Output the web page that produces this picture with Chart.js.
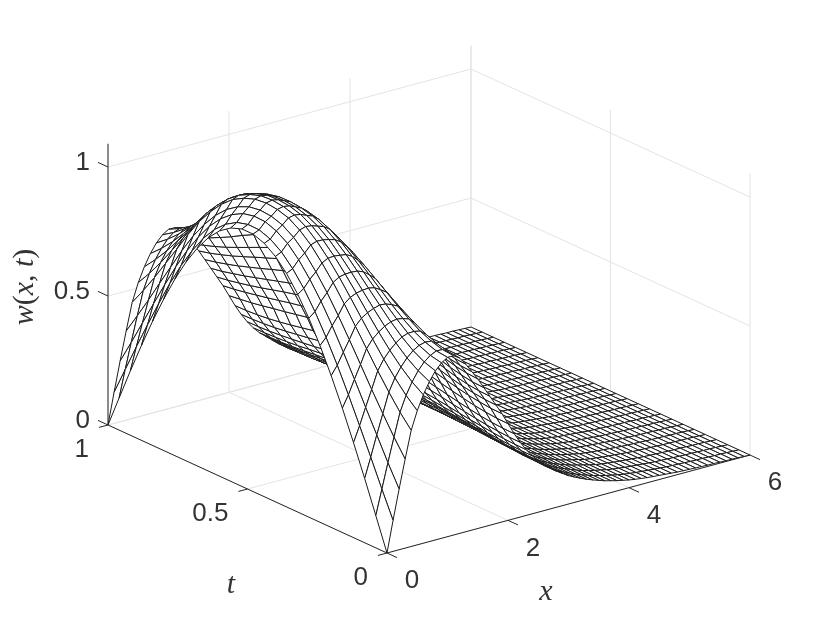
<!DOCTYPE html>
<html>
<head>
<meta charset="utf-8">
<title>w(x,t)</title>
<style>
  html, body { margin: 0; padding: 0; background: #fff; }
  canvas { display: block; }
</style>
<script src="https://cdn.jsdelivr.net/npm/chart.js@4/dist/chart.umd.js"></script>
</head>
<body>
<canvas id="surface" width="830" height="623"></canvas>
<script>
"use strict";

// mesh nodes
const xValues = [0,0.1,0.2,0.3,0.4,0.5,0.6,0.7,0.8,0.9,1,1.1,1.2,1.3,1.4,1.5,1.6,1.7,1.8,1.9,2,2.1,2.2,2.3,2.4,2.5,2.6,2.7,2.8,2.9,3,3.1,3.2,3.3,3.4,3.5,3.6,3.7,3.8,3.9,4,4.1,4.2,4.3,4.4,4.5,4.6,4.7,4.8,4.9,5,5.1,5.2,5.3,5.4,5.5,5.6,5.7,5.8,5.9,6];
const tValues = [0,0.04,0.08,0.12,0.16,0.2,0.24,0.28,0.32,0.36,0.4,0.44,0.48,0.52,0.56,0.6,0.64,0.68,0.72,0.76,0.8,0.84,0.88,0.92,0.96,1];

// w(x,t): one row per x, one column per t
const wRows = [
[0,0.125,0.249,0.368,0.482,0.588,0.685,0.771,0.844,0.905,0.951,0.982,0.998,0.998,0.982,0.951,0.905,0.844,0.771,0.685,0.588,0.482,0.368,0.249,0.125,0],
[0.12,0.221,0.325,0.427,0.527,0.622,0.71,0.79,0.86,0.917,0.962,0.992,1.008,1.009,0.997,0.97,0.93,0.876,0.808,0.73,0.641,0.543,0.441,0.336,0.228,0.12],
[0.235,0.317,0.405,0.492,0.581,0.666,0.749,0.824,0.889,0.945,0.989,1.017,1.033,1.035,1.025,1.001,0.965,0.916,0.854,0.782,0.7,0.61,0.517,0.422,0.327,0.235],
[0.345,0.41,0.481,0.555,0.632,0.708,0.782,0.851,0.912,0.965,1.006,1.034,1.048,1.052,1.045,1.025,0.995,0.952,0.897,0.832,0.756,0.673,0.59,0.505,0.424,0.345],
[0.45,0.5,0.558,0.621,0.687,0.754,0.821,0.884,0.94,0.99,1.028,1.055,1.068,1.073,1.068,1.052,1.027,0.989,0.94,0.882,0.812,0.736,0.661,0.586,0.516,0.45],
[0.52,0.559,0.607,0.66,0.718,0.779,0.84,0.899,0.952,0.998,1.035,1.06,1.073,1.078,1.075,1.06,1.037,1.002,0.957,0.904,0.84,0.771,0.704,0.637,0.576,0.52],
[0.575,0.605,0.643,0.688,0.739,0.794,0.85,0.904,0.954,0.997,1.032,1.056,1.069,1.073,1.071,1.057,1.036,1.005,0.964,0.916,0.858,0.794,0.735,0.676,0.623,0.575],
[0.62,0.642,0.672,0.71,0.755,0.804,0.855,0.905,0.951,0.992,1.024,1.046,1.059,1.063,1.061,1.049,1.031,1.003,0.966,0.922,0.869,0.811,0.758,0.706,0.66,0.62],
[0.655,0.67,0.694,0.727,0.766,0.811,0.857,0.903,0.947,0.985,1.016,1.037,1.048,1.053,1.052,1.042,1.025,0.999,0.966,0.926,0.877,0.824,0.776,0.729,0.689,0.655],
[0.68,0.689,0.708,0.735,0.77,0.809,0.852,0.894,0.934,0.97,0.999,1.018,1.029,1.033,1.032,1.022,1.006,0.984,0.953,0.917,0.873,0.825,0.783,0.743,0.709,0.68],
[0.695,0.7,0.714,0.736,0.766,0.8,0.838,0.876,0.912,0.945,0.971,0.989,0.999,1.002,1.002,0.992,0.979,0.958,0.93,0.898,0.859,0.818,0.782,0.747,0.718,0.695],
[0.695,0.699,0.712,0.731,0.758,0.788,0.822,0.855,0.887,0.916,0.939,0.955,0.964,0.966,0.965,0.957,0.944,0.924,0.899,0.871,0.838,0.802,0.77,0.74,0.715,0.695],
[0.68,0.684,0.695,0.712,0.735,0.761,0.79,0.82,0.847,0.872,0.893,0.907,0.914,0.916,0.914,0.905,0.893,0.876,0.855,0.83,0.801,0.771,0.744,0.719,0.697,0.68],
[0.65,0.653,0.663,0.678,0.698,0.721,0.746,0.772,0.796,0.818,0.836,0.848,0.854,0.855,0.851,0.844,0.832,0.815,0.797,0.775,0.752,0.727,0.704,0.683,0.664,0.65],
[0.615,0.618,0.626,0.639,0.657,0.677,0.699,0.722,0.743,0.762,0.778,0.789,0.794,0.794,0.79,0.782,0.77,0.755,0.738,0.719,0.699,0.679,0.66,0.643,0.628,0.615],
[0.58,0.583,0.59,0.602,0.617,0.635,0.655,0.675,0.694,0.711,0.725,0.734,0.739,0.74,0.736,0.728,0.718,0.704,0.689,0.672,0.655,0.637,0.62,0.605,0.591,0.58],
[0.54,0.542,0.549,0.559,0.572,0.588,0.606,0.623,0.64,0.655,0.667,0.675,0.679,0.68,0.676,0.67,0.661,0.649,0.636,0.621,0.605,0.59,0.575,0.562,0.55,0.54],
[0.5,0.502,0.507,0.516,0.528,0.541,0.556,0.571,0.585,0.598,0.609,0.616,0.62,0.62,0.617,0.611,0.603,0.593,0.582,0.569,0.556,0.543,0.53,0.519,0.508,0.5],
[0.46,0.462,0.467,0.474,0.484,0.496,0.509,0.522,0.535,0.546,0.555,0.561,0.565,0.565,0.562,0.557,0.551,0.542,0.532,0.521,0.509,0.497,0.486,0.476,0.467,0.46],
[0.42,0.421,0.426,0.432,0.441,0.451,0.462,0.473,0.484,0.494,0.501,0.507,0.51,0.51,0.508,0.504,0.498,0.49,0.481,0.472,0.462,0.452,0.443,0.434,0.426,0.42],
[0.375,0.376,0.38,0.386,0.394,0.403,0.413,0.423,0.432,0.441,0.447,0.452,0.455,0.455,0.453,0.449,0.444,0.437,0.43,0.421,0.412,0.404,0.395,0.387,0.381,0.375],
[0.33,0.331,0.334,0.339,0.346,0.354,0.363,0.372,0.38,0.387,0.393,0.397,0.4,0.4,0.397,0.393,0.387,0.38,0.372,0.363,0.354,0.346,0.339,0.334,0.331,0.33],
[0.29,0.291,0.294,0.298,0.304,0.311,0.318,0.326,0.333,0.339,0.344,0.348,0.35,0.35,0.348,0.344,0.339,0.333,0.326,0.318,0.311,0.304,0.298,0.294,0.291,0.29],
[0.255,0.256,0.258,0.262,0.267,0.272,0.278,0.285,0.291,0.296,0.3,0.303,0.305,0.305,0.303,0.3,0.296,0.291,0.285,0.278,0.272,0.267,0.262,0.258,0.256,0.255],
[0.225,0.226,0.228,0.231,0.235,0.241,0.246,0.252,0.257,0.262,0.266,0.268,0.27,0.27,0.268,0.266,0.262,0.257,0.252,0.246,0.241,0.235,0.231,0.228,0.226,0.225],
[0.2,0.201,0.202,0.205,0.209,0.214,0.219,0.224,0.228,0.233,0.236,0.239,0.24,0.24,0.239,0.236,0.233,0.228,0.224,0.219,0.214,0.209,0.205,0.202,0.201,0.2],
[0.18,0.181,0.182,0.185,0.188,0.192,0.196,0.201,0.205,0.209,0.212,0.214,0.215,0.215,0.214,0.212,0.209,0.205,0.201,0.196,0.192,0.188,0.185,0.182,0.181,0.18],
[0.16,0.16,0.162,0.164,0.167,0.17,0.174,0.178,0.181,0.185,0.187,0.189,0.19,0.19,0.189,0.187,0.185,0.181,0.178,0.174,0.17,0.167,0.164,0.162,0.16,0.16],
[0.14,0.14,0.142,0.143,0.146,0.149,0.152,0.155,0.158,0.16,0.163,0.164,0.165,0.165,0.164,0.163,0.16,0.158,0.155,0.152,0.149,0.146,0.143,0.142,0.14,0.14],
[0.125,0.125,0.126,0.128,0.13,0.132,0.134,0.137,0.139,0.141,0.143,0.144,0.145,0.145,0.144,0.143,0.141,0.139,0.137,0.134,0.132,0.13,0.128,0.126,0.125,0.125],
[0.11,0.11,0.111,0.112,0.114,0.116,0.118,0.121,0.123,0.125,0.126,0.127,0.128,0.128,0.127,0.126,0.125,0.123,0.121,0.118,0.116,0.114,0.112,0.111,0.11,0.11],
[0.098,0.098,0.099,0.1,0.101,0.103,0.105,0.107,0.109,0.11,0.112,0.112,0.113,0.113,0.112,0.112,0.11,0.109,0.107,0.105,0.103,0.101,0.1,0.099,0.098,0.098],
[0.087,0.087,0.088,0.089,0.09,0.091,0.093,0.095,0.096,0.098,0.099,0.1,0.1,0.1,0.1,0.099,0.098,0.096,0.095,0.093,0.091,0.09,0.089,0.088,0.087,0.087],
[0.077,0.077,0.078,0.078,0.08,0.081,0.082,0.084,0.085,0.086,0.087,0.088,0.088,0.088,0.088,0.087,0.086,0.085,0.084,0.082,0.081,0.08,0.078,0.078,0.077,0.077],
[0.068,0.068,0.069,0.069,0.07,0.071,0.072,0.073,0.074,0.075,0.076,0.077,0.077,0.077,0.077,0.076,0.075,0.074,0.073,0.072,0.071,0.07,0.069,0.069,0.068,0.068],
[0.06,0.06,0.06,0.061,0.062,0.063,0.064,0.065,0.066,0.067,0.067,0.068,0.068,0.068,0.068,0.067,0.067,0.066,0.065,0.064,0.063,0.062,0.061,0.06,0.06,0.06],
[0.052,0.052,0.052,0.053,0.053,0.054,0.055,0.056,0.056,0.057,0.057,0.058,0.058,0.058,0.058,0.057,0.057,0.056,0.056,0.055,0.054,0.053,0.053,0.052,0.052,0.052],
[0.046,0.046,0.046,0.047,0.047,0.048,0.048,0.049,0.05,0.05,0.05,0.051,0.051,0.051,0.051,0.05,0.05,0.05,0.049,0.048,0.048,0.047,0.047,0.046,0.046,0.046],
[0.04,0.04,0.04,0.041,0.041,0.041,0.042,0.042,0.043,0.043,0.044,0.044,0.044,0.044,0.044,0.044,0.043,0.043,0.042,0.042,0.041,0.041,0.041,0.04,0.04,0.04],
[0.035,0.035,0.035,0.035,0.036,0.036,0.036,0.037,0.037,0.037,0.038,0.038,0.038,0.038,0.038,0.038,0.037,0.037,0.037,0.036,0.036,0.036,0.035,0.035,0.035,0.035],
[0.03,0.03,0.03,0.03,0.03,0.031,0.031,0.031,0.031,0.032,0.032,0.032,0.032,0.032,0.032,0.032,0.032,0.031,0.031,0.031,0.031,0.03,0.03,0.03,0.03,0.03],
[0.026,0.026,0.026,0.026,0.026,0.026,0.026,0.026,0.026,0.026,0.026,0.026,0.026,0.026,0.026,0.026,0.026,0.026,0.026,0.026,0.026,0.026,0.026,0.026,0.026,0.026],
[0.023,0.023,0.023,0.023,0.023,0.023,0.023,0.023,0.023,0.023,0.023,0.023,0.023,0.023,0.023,0.023,0.023,0.023,0.023,0.023,0.023,0.023,0.023,0.023,0.023,0.023],
[0.02,0.02,0.02,0.02,0.02,0.02,0.02,0.02,0.02,0.02,0.02,0.02,0.02,0.02,0.02,0.02,0.02,0.02,0.02,0.02,0.02,0.02,0.02,0.02,0.02,0.02],
[0.018,0.018,0.018,0.018,0.018,0.018,0.018,0.018,0.018,0.018,0.018,0.018,0.018,0.018,0.018,0.018,0.018,0.018,0.018,0.018,0.018,0.018,0.018,0.018,0.018,0.018],
[0.016,0.016,0.016,0.016,0.016,0.016,0.016,0.016,0.016,0.016,0.016,0.016,0.016,0.016,0.016,0.016,0.016,0.016,0.016,0.016,0.016,0.016,0.016,0.016,0.016,0.016],
[0.014,0.014,0.014,0.014,0.014,0.014,0.014,0.014,0.014,0.014,0.014,0.014,0.014,0.014,0.014,0.014,0.014,0.014,0.014,0.014,0.014,0.014,0.014,0.014,0.014,0.014],
[0.012,0.012,0.012,0.012,0.012,0.012,0.012,0.012,0.012,0.012,0.012,0.012,0.012,0.012,0.012,0.012,0.012,0.012,0.012,0.012,0.012,0.012,0.012,0.012,0.012,0.012],
[0.01,0.01,0.01,0.01,0.01,0.01,0.01,0.01,0.01,0.01,0.01,0.01,0.01,0.01,0.01,0.01,0.01,0.01,0.01,0.01,0.01,0.01,0.01,0.01,0.01,0.01],
[0.009,0.009,0.009,0.009,0.009,0.009,0.009,0.009,0.009,0.009,0.009,0.009,0.009,0.009,0.009,0.009,0.009,0.009,0.009,0.009,0.009,0.009,0.009,0.009,0.009,0.009],
[0.008,0.008,0.008,0.008,0.008,0.008,0.008,0.008,0.008,0.008,0.008,0.008,0.008,0.008,0.008,0.008,0.008,0.008,0.008,0.008,0.008,0.008,0.008,0.008,0.008,0.008],
[0.007,0.007,0.007,0.007,0.007,0.007,0.007,0.007,0.007,0.007,0.007,0.007,0.007,0.007,0.007,0.007,0.007,0.007,0.007,0.007,0.007,0.007,0.007,0.007,0.007,0.007],
[0.006,0.006,0.006,0.006,0.006,0.006,0.006,0.006,0.006,0.006,0.006,0.006,0.006,0.006,0.006,0.006,0.006,0.006,0.006,0.006,0.006,0.006,0.006,0.006,0.006,0.006],
[0.005,0.005,0.005,0.005,0.005,0.005,0.005,0.005,0.005,0.005,0.005,0.005,0.005,0.005,0.005,0.005,0.005,0.005,0.005,0.005,0.005,0.005,0.005,0.005,0.005,0.005],
[0.005,0.005,0.005,0.005,0.005,0.005,0.005,0.005,0.005,0.005,0.005,0.005,0.005,0.005,0.005,0.005,0.005,0.005,0.005,0.005,0.005,0.005,0.005,0.005,0.005,0.005],
[0.004,0.004,0.004,0.004,0.004,0.004,0.004,0.004,0.004,0.004,0.004,0.004,0.004,0.004,0.004,0.004,0.004,0.004,0.004,0.004,0.004,0.004,0.004,0.004,0.004,0.004],
[0.003,0.003,0.003,0.003,0.003,0.003,0.003,0.003,0.003,0.003,0.003,0.003,0.003,0.003,0.003,0.003,0.003,0.003,0.003,0.003,0.003,0.003,0.003,0.003,0.003,0.003],
[0.003,0.003,0.003,0.003,0.003,0.003,0.003,0.003,0.003,0.003,0.003,0.003,0.003,0.003,0.003,0.003,0.003,0.003,0.003,0.003,0.003,0.003,0.003,0.003,0.003,0.003],
[0.002,0.002,0.002,0.002,0.002,0.002,0.002,0.002,0.002,0.002,0.002,0.002,0.002,0.002,0.002,0.002,0.002,0.002,0.002,0.002,0.002,0.002,0.002,0.002,0.002,0.002],
[0.001,0.001,0.001,0.001,0.001,0.001,0.001,0.001,0.001,0.001,0.001,0.001,0.001,0.001,0.001,0.001,0.001,0.001,0.001,0.001,0.001,0.001,0.001,0.001,0.001,0.001],
[0,0,0,0,0,0,0,0,0,0,0,0,0,0,0,0,0,0,0,0,0,0,0,0,0,0]
];

const xTicks = [0, 2, 4, 6];
const tTicks = [0, 0.5, 1];
const wTicks = [0, 0.5, 1];
const xTickLabels = ["0", "2", "4", "6"];
const tTickLabels = ["0", "0.5", "1"];
const wTickLabels = ["0", "0.5", "1"];

(function () {
  const xMax = 6;
  const wTop = 1.09;
  const axisColor = "#262626";
  const gridColor = "#e3e3e3";
  const meshColor = "#1a1a1a";

  // fixed 3D view: screen position of a (x, t, w) point
  const project = (x, t, w) => ({
    x: 387 + 60.5 * x - 279 * t,
    y: 553 - 16.33 * x - 128 * t - 258 * w,
  });

  const stroke = (pts, color, width) => ({
    data: pts.map((p) => project(p[0], p[1], p[2])),
    showLine: true,
    fill: false,
    borderColor: color,
    borderWidth: width,
    pointRadius: 0,
  });

  const quad = (i, j) => ({
    data: [
      project(xValues[i], tValues[j], wRows[i][j]),
      project(xValues[i + 1], tValues[j], wRows[i + 1][j]),
      project(xValues[i + 1], tValues[j + 1], wRows[i + 1][j + 1]),
      project(xValues[i], tValues[j + 1], wRows[i][j + 1]),
      project(xValues[i], tValues[j], wRows[i][j]),
    ],
    showLine: true,
    fill: "shape",
    backgroundColor: "#fff",
    borderColor: meshColor,
    borderWidth: 1,
    borderJoinStyle: "round",
    pointRadius: 0,
  });

  // chart.js paints the last dataset first, so nearest cell goes first here
  const datasets = [];
  for (let i = 0; i < xValues.length - 1; i++) {
    for (let j = 0; j < tValues.length - 1; j++) {
      datasets.push(quad(i, j));
    }
  }

  // axes and tick marks
  datasets.push(stroke([[0, 0, 0], [xMax, 0, 0]], axisColor, 1));
  datasets.push(stroke([[0, 0, 0], [0, 1, 0]], axisColor, 1));
  datasets.push(stroke([[0, 1, 0], [0, 1, wTop]], axisColor, 1));
  xTicks.forEach((v) => datasets.push(stroke([[v, 0, 0], [v, -0.036, 0]], axisColor, 1)));
  tTicks.forEach((v) => datasets.push(stroke([[0, v, 0], [-0.15, v, 0]], axisColor, 1)));
  wTicks.forEach((v) => datasets.push(stroke([[0, 1, v], [0, 1.036, v]], axisColor, 1)));

  // floor and the two back walls
  xTicks.forEach((v) => {
    datasets.push(stroke([[v, 0, 0], [v, 1, 0]], gridColor, 1));
    datasets.push(stroke([[v, 1, 0], [v, 1, wTop]], gridColor, 1));
  });
  tTicks.forEach((v) => {
    datasets.push(stroke([[0, v, 0], [xMax, v, 0]], gridColor, 1));
    datasets.push(stroke([[xMax, v, 0], [xMax, v, wTop]], gridColor, 1));
  });
  wTicks.forEach((v) => {
    datasets.push(stroke([[0, 1, v], [xMax, 1, v]], gridColor, 1));
    datasets.push(stroke([[xMax, 1, v], [xMax, 0, v]], gridColor, 1));
  });

  function drawRuns(ctx, runs, cx, cy) {
    const width = runs.reduce((s, r) => {
      ctx.font = r[1];
      return s + ctx.measureText(r[0]).width;
    }, 0);
    let pos = cx - width / 2;
    runs.forEach((r) => {
      ctx.font = r[1];
      ctx.fillText(r[0], pos, cy);
      pos += ctx.measureText(r[0]).width;
    });
  }

  const axisLabels = {
    id: "axisLabels",
    afterDraw(chart) {
      const ctx = chart.ctx;
      const tickFont = '26px "Liberation Sans", Arial, sans-serif';
      const italic = 'italic 30px "Liberation Serif", serif';
      const upright = '30px "Liberation Serif", serif';
      ctx.save();
      ctx.fillStyle = "#333";
      ctx.font = tickFont;
      ctx.textBaseline = "middle";

      ctx.textAlign = "center";
      xTicks.forEach((v, i) => {
        const p = project(v, 0, 0);
        ctx.fillText(xTickLabels[i], p.x + 25, p.y + 28);
      });
      ctx.textAlign = "right";
      tTicks.forEach((v, i) => {
        const p = project(0, v, 0);
        ctx.fillText(tTickLabels[i], p.x - 19, p.y + 25);
      });
      wTicks.forEach((v, i) => {
        const p = project(0, 1, v);
        ctx.fillText(wTickLabels[i], p.x - 18, p.y - 4);
      });

      ctx.textAlign = "left";
      drawRuns(ctx, [["t", italic]], 231, 585);
      drawRuns(ctx, [["x", italic]], 546, 592);
      ctx.translate(25, 287);
      ctx.rotate(-Math.PI / 2);
      drawRuns(ctx, [
        ["w", italic], ["(", upright], ["x", italic], [", ", upright],
        ["t", italic], [")", upright],
      ], 0, 0);
      ctx.restore();
    },
  };

  new Chart(document.getElementById("surface"), {
    type: "scatter",
    data: { datasets },
    options: {
      responsive: false,
      animation: false,
      events: [],
      layout: { padding: 0 },
      elements: { line: { tension: 0 } },
      plugins: {
        legend: { display: false },
        tooltip: { enabled: false },
        filler: { drawTime: "beforeDatasetDraw" },
      },
      scales: {
        x: { type: "linear", display: false, min: 0, max: 830 },
        y: { type: "linear", display: false, min: 0, max: 623, reverse: true },
      },
    },
    plugins: [axisLabels],
  });
})();
</script>
</body>
</html>
